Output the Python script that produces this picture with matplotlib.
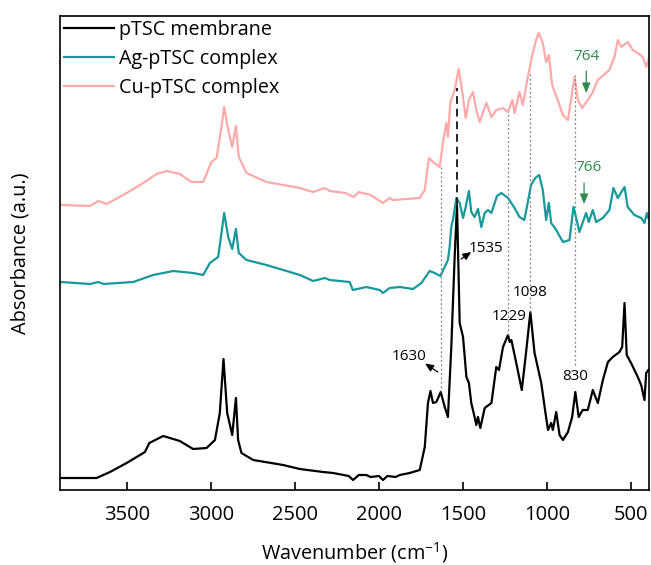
import numpy as np
import matplotlib.pyplot as plt

plt.rcParams['font.family'] = ['Open Sans', 'DejaVu Sans']
plt.rcParams['mathtext.default'] = 'regular'

## Spectra (stacked, a.u.)

w_black = [3900, 3682, 3602, 3503, 3394, 3368, 3285, 3186, 3107, 3027, 2977, 2948,
           2926, 2904, 2874, 2852, 2839, 2819, 2749, 2571, 2471, 2333, 2273, 2180,
           2154, 2120, 2075, 2050, 2000, 1976, 1950, 1900, 1876, 1817, 1757, 1727,
           1708, 1693, 1678, 1658, 1632, 1608, 1589, 1569, 1549, 1535, 1519, 1499,
           1479, 1464, 1450, 1430, 1420, 1410, 1396, 1370, 1330, 1301, 1285, 1261,
           1231, 1221, 1211, 1182, 1149, 1122, 1098, 1073, 1033, 1013, 993, 974,
           964, 944, 924, 904, 874, 849, 830, 810, 786, 756, 726, 696, 666, 636,
           607, 567, 551, 537, 524, 498, 458, 438, 418, 408, 395]
a_black = [0.12, 0.12, 0.18, 0.27, 0.38, 0.47, 0.54, 0.49, 0.41, 0.42, 0.50, 0.77,
           1.31, 0.77, 0.55, 0.92, 0.50, 0.37, 0.30, 0.25, 0.21, 0.18, 0.17, 0.14,
           0.10, 0.15, 0.15, 0.13, 0.14, 0.10, 0.14, 0.13, 0.15, 0.17, 0.20, 0.43,
           0.87, 0.99, 0.87, 0.88, 0.98, 0.83, 0.73, 1.43, 2.33, 2.85, 1.67, 1.53,
           1.13, 1.07, 0.87, 0.73, 0.65, 0.73, 0.62, 0.82, 0.87, 1.23, 1.20, 1.43,
           1.55, 1.48, 1.50, 1.27, 1.00, 1.40, 1.78, 1.37, 1.07, 0.83, 0.60, 0.67,
           0.60, 0.78, 0.55, 0.50, 0.58, 0.73, 0.98, 0.73, 0.80, 0.80, 1.00, 0.87,
           1.10, 1.28, 1.33, 1.38, 1.43, 1.87, 1.35, 1.27, 1.13, 1.05, 0.90, 1.17, 1.20]

w_ag = [3894, 3721, 3672, 3642, 3464, 3345, 3226, 3107, 3047, 3007, 2958, 2938,
        2922, 2898, 2874, 2852, 2835, 2789, 2670, 2471, 2392, 2323, 2293, 2174,
        2156, 2075, 1995, 1976, 1936, 1876, 1797, 1747, 1698, 1668, 1634, 1589,
        1579, 1569, 1559, 1539, 1519, 1499, 1483, 1464, 1450, 1430, 1410, 1390,
        1370, 1350, 1330, 1297, 1271, 1231, 1192, 1163, 1134, 1114, 1094, 1069,
        1045, 1024, 1004, 988, 974, 944, 904, 865, 841, 825, 806, 766, 750, 726,
        706, 666, 627, 603, 577, 537, 518, 478, 438, 418, 404, 395]
a_ag = [2.08, 2.06, 2.08, 2.06, 2.08, 2.15, 2.19, 2.17, 2.15, 2.27, 2.33, 2.57,
        2.77, 2.53, 2.41, 2.61, 2.37, 2.30, 2.25, 2.15, 2.09, 2.12, 2.10, 2.08,
        2.00, 2.03, 2.00, 1.97, 2.02, 2.03, 2.01, 2.07, 2.19, 2.17, 2.14, 2.30,
        2.43, 2.63, 2.70, 2.92, 2.87, 2.72, 2.83, 2.99, 2.78, 2.73, 2.81, 2.63,
        2.77, 2.80, 2.77, 2.94, 2.97, 2.92, 2.82, 2.73, 2.70, 2.87, 3.05, 3.12,
        3.15, 3.00, 2.70, 2.87, 2.67, 2.60, 2.48, 2.50, 2.83, 2.72, 2.58, 2.77,
        2.68, 2.80, 2.68, 2.72, 2.80, 3.02, 2.92, 3.03, 2.83, 2.75, 2.72, 2.67,
        2.77, 2.72]

w_cu = [3894, 3721, 3672, 3622, 3503, 3404, 3325, 3265, 3186, 3116, 3047, 2998,
        2967, 2938, 2922, 2898, 2874, 2852, 2835, 2789, 2670, 2471, 2392, 2323,
        2293, 2200, 2150, 2120, 2050, 1976, 1936, 1916, 1757, 1727, 1702, 1678,
        1638, 1619, 1599, 1589, 1575, 1549, 1525, 1505, 1483, 1464, 1440, 1420,
        1400, 1360, 1330, 1301, 1261, 1231, 1205, 1192, 1163, 1143, 1114, 1084,
        1064, 1048, 1024, 1004, 988, 968, 935, 904, 874, 835, 815, 790, 756, 726,
        696, 627, 597, 577, 557, 518, 488, 458, 428, 408, 395]
a_cu = [2.85, 2.84, 2.89, 2.86, 2.97, 3.07, 3.16, 3.19, 3.16, 3.08, 3.08, 3.28,
        3.32, 3.63, 3.83, 3.60, 3.43, 3.64, 3.33, 3.17, 3.08, 3.02, 2.98, 3.02,
        2.99, 2.97, 2.93, 2.98, 2.95, 2.87, 2.92, 2.90, 2.92, 3.00, 3.32, 3.28,
        3.23, 3.47, 3.67, 3.53, 3.87, 4.00, 4.21, 4.00, 3.72, 3.90, 3.98, 3.80,
        3.68, 3.87, 3.73, 3.80, 3.82, 3.78, 3.90, 3.77, 3.98, 3.85, 4.12, 4.37,
        4.50, 4.57, 4.47, 4.28, 4.35, 4.05, 3.90, 3.75, 3.70, 4.13, 3.90, 3.82,
        3.90, 3.98, 4.10, 4.20, 4.33, 4.50, 4.43, 4.48, 4.40, 4.37, 4.33, 4.23, 4.30]

labels = ['pTSC membrane', 'Ag-pTSC complex', 'Cu-pTSC complex']
colors = ['black', '#16999a', '#ffaaaa']

# marker lines: wavenumber, lower end, upper end
guide_w = [1630, 1229, 1098, 830]
guide_lo = [0.98, 1.55, 1.78, 1.25]
guide_hi = [3.23, 3.77, 4.17, 4.15]

peak_text = ['1229', '1098', '830']
peak_w = [1227, 1098, 830]
peak_y = [1.73, 1.97, 1.14]

fig = plt.figure(figsize=(6.51, 5.65), dpi=100)
ax = fig.add_axes([60 / 651, 75 / 565, 588.7 / 651, 474 / 565])

ax.plot(w_black, a_black, color=colors[0], lw=1.6, label=labels[0])
ax.plot(w_ag, a_ag, color=colors[1], lw=1.6, label=labels[1])
ax.plot(w_cu, a_cu, color=colors[2], lw=1.6, label=labels[2])

for gw, lo, hi in zip(guide_w, guide_lo, guide_hi):
    ax.plot([gw, gw], [lo, hi], color='#808080', lw=0.9, ls=(0, (1.5, 2)))
ax.plot([1535, 1535], [2.85, 4.02], color='#222222', lw=1.4, ls=(0, (4, 2.5)))

for t, x, y in zip(peak_text, peak_w, peak_y):
    ax.text(x, y, t, fontsize=11, ha='center', va='center')

arrow_k = dict(arrowstyle='-|>,head_length=0.5,head_width=0.22', color='black',
               lw=0.9, shrinkA=0, shrinkB=0)
ax.text(1823, 1.33, '1630', fontsize=11, ha='center', va='center')
ax.annotate('', xy=(1725, 1.265), xytext=(1650, 1.18), arrowprops=arrow_k)
ax.text(1360, 2.41, '1535', fontsize=11, ha='center', va='center')
ax.annotate('', xy=(1450, 2.38), xytext=(1510, 2.31), arrowprops=arrow_k)

green = '#2e8b4f'
arrow_g = dict(arrowstyle='-|>,head_length=0.6,head_width=0.25', color=green,
               lw=0.9, shrinkA=0, shrinkB=0)
ax.text(765, 4.34, '764', fontsize=11, color=green, ha='center', va='center')
ax.annotate('', xy=(765, 3.97), xytext=(765, 4.19), arrowprops=arrow_g)
ax.text(752, 3.23, '766', fontsize=11, color=green, ha='center', va='center')
ax.annotate('', xy=(778, 2.86), xytext=(778, 3.07), arrowprops=arrow_g)

ax.set_xlim(3900, 393)
ax.set_ylim(0, 4.74)
ax.set_xticks([3500, 3000, 2500, 2000, 1500, 1000, 500])
ax.set_yticks([])
ax.tick_params(axis='x', direction='in', length=6, width=1.2, labelsize=14.5, pad=11)
for s in ax.spines.values():
    s.set_linewidth(1.2)

ax.set_xlabel('Wavenumber (cm$^{-1}$)', fontsize=14.3)
ax.set_ylabel('Absorbance (a.u.)', fontsize=14.3)
ax.xaxis.set_label_coords(0.5, -(553 - 490) / 474)
ax.yaxis.set_label_coords(-(60 - 21) / 588.7, 0.5)
ax.xaxis.label.set_va('center')
ax.yaxis.label.set_va('center')

ax.legend(loc='upper left', bbox_to_anchor=(0.0, 1.0), frameon=False, fontsize=14.2,
          handlelength=2.55, handletextpad=0.25, labelspacing=0.46,
          borderaxespad=0.0, borderpad=0.2)

fig.savefig('out.png', dpi=100)
